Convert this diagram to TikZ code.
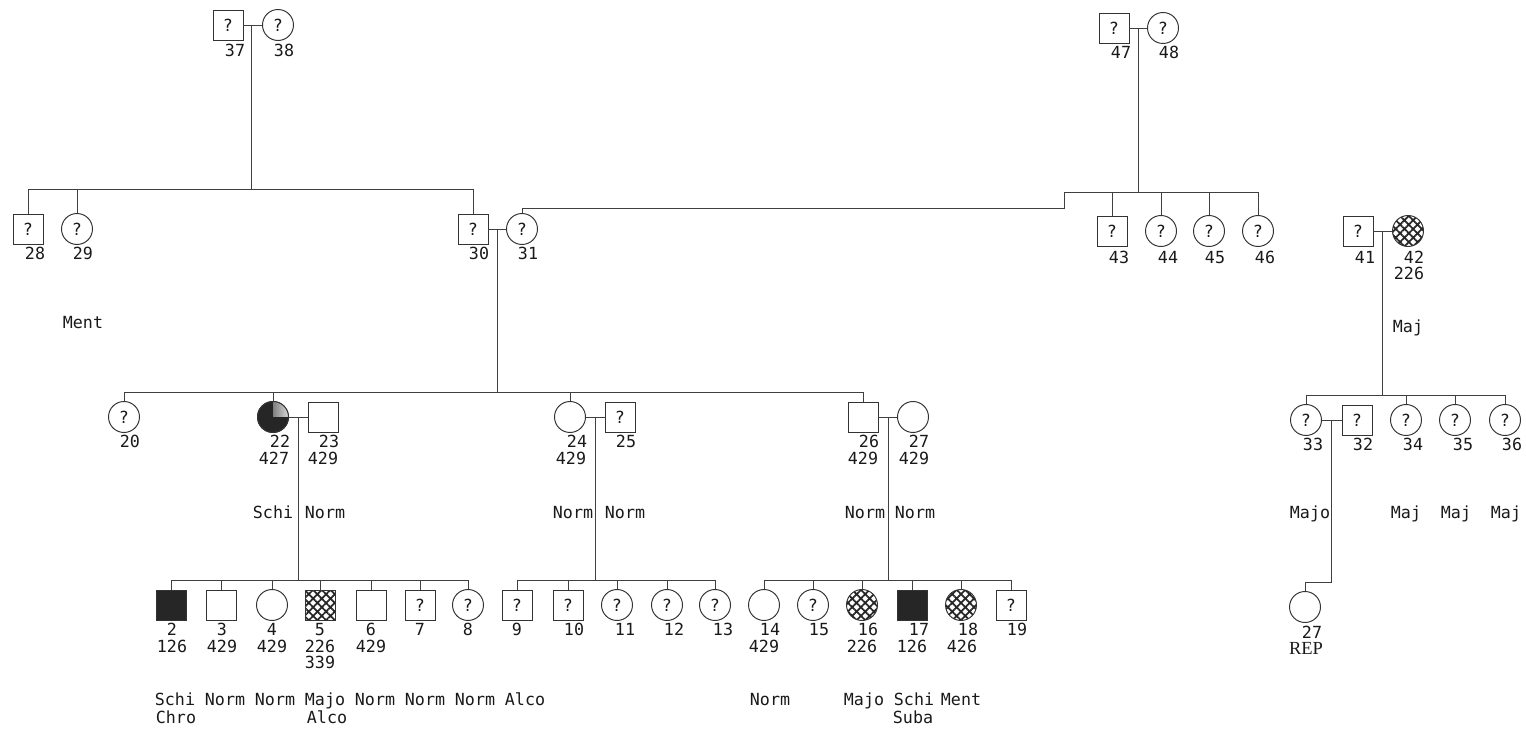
\documentclass[tikz,border=0pt]{standalone}
\usepackage{fontspec}
\newfontfamily\lblfont{DejaVu Sans Mono}
\newfontfamily\repfont{Liberation Serif}
\usetikzlibrary{patterns.meta}
\newcommand\lblf{\lblfont\fontsize{9.5}{10}\selectfont}
\begin{document}
\begin{tikzpicture}[x=0.02cm,y=-0.02cm,
  ln/.style={draw=black!75, line width=0.5pt},
  person/.style={draw=black!80, line width=0.55pt, inner sep=0pt, font=\lblf, text=black!90},
  sq/.style={person, rectangle, minimum size=0.6cm},
  ci/.style={person, circle, minimum size=0.62cm},
  aff/.style={fill=black!85},
  hat/.style={pattern={Hatch[angle=45,distance=3.5pt,line width=1pt]}, pattern color=black!85},
  lab/.style={font=\lblf, text=black!90, anchor=base, yshift=-0.114cm, inner sep=0pt},
]
\useasboundingbox (0,0) rectangle (1526,729);

% ---------- Generation I
\node[sq] (n37) at (228,25) {?};
\node[ci] (n38) at (278,25) {?};
\node[sq] (n47) at (1114,28) {?};
\node[ci] (n48) at (1163,28) {?};

% ---------- Generation II
\node[sq] (n28) at (28,229) {?};
\node[ci] (n29) at (77,229) {?};
\node[sq] (n30) at (473,229) {?};
\node[ci] (n31) at (522,229) {?};
\node[sq] (n43) at (1112,231) {?};
\node[ci] (n44) at (1161,231) {?};
\node[ci] (n45) at (1209,231) {?};
\node[ci] (n46) at (1258,231) {?};
\node[sq] (n41) at (1358,231) {?};
\node[ci,hat] (n42) at (1408,231) {};

% ---------- Generation III
\node[ci] (n20) at (124,417) {?};
\node[ci,aff] (n22) at (273,417) {};
\begin{scope}
  \clip (n22.center) rectangle ++(0.4cm,0.4cm);
  \shade[left color=black!85, right color=black!15] (n22.center) circle (0.31cm);
\end{scope}
\draw[draw=black!80, line width=0.55pt] (n22.center) circle (0.31cm);
\node[sq] (n23) at (323,417) {};
\node[ci] (n24) at (570,417) {};
\node[sq] (n25) at (620,417) {?};
\node[sq] (n26) at (863,417) {};
\node[ci] (n27) at (913,417) {};
\node[ci] (n33) at (1306,420) {?};
\node[sq] (n32) at (1357,420) {?};
\node[ci] (n34) at (1406,420) {?};
\node[ci] (n35) at (1455,420) {?};
\node[ci] (n36) at (1505,420) {?};

% ---------- Generation IV
\node[sq,aff] (n2) at (171,605) {};
\node[sq] (n3) at (221,605) {};
\node[ci] (n4) at (272,605) {};
\node[sq,hat] (n5) at (320,605) {};
\node[sq] (n6) at (371,605) {};
\node[sq] (n7) at (420,605) {?};
\node[ci] (n8) at (468,605) {?};
\node[sq] (n9) at (517,605) {?};
\node[sq] (n10) at (568,605) {?};
\node[ci] (n11) at (617,605) {?};
\node[ci] (n12) at (667,605) {?};
\node[ci] (n13) at (715,605) {?};
\node[ci] (n14) at (764,605) {};
\node[ci] (n15) at (813,605) {?};
\node[ci,hat] (n16) at (862,605) {};
\node[sq,aff] (n17) at (912,605) {};
\node[ci,hat] (n18) at (961,605) {};
\node[sq] (n19) at (1011,605) {?};
\node[ci] (n27b) at (1305,607) {};

% ---------- junction coordinates
\coordinate (m37) at (251,25);
\coordinate (m47) at (1138,28);
\coordinate (m30) at (497,229);
\coordinate (m41) at (1382,231);
\coordinate (m22) at (298,417);
\coordinate (m24) at (595,417);
\coordinate (m26) at (888,417);
\coordinate (m33) at (1331,420);
\coordinate (k33) at (1331,582);
\coordinate (j31) at (1064,208);
\coordinate (sA) at (0,189);
\coordinate (sB) at (0,192);
\coordinate (sC) at (0,392);
\coordinate (sD) at (0,395);
\coordinate (sE) at (0,580);

% ---------- connectors
\draw[ln] (n37) -- (n38);
\draw[ln] (m37) -- (m37 |- sA);
\draw[ln] (n28.north |- sA) -- (n30.north |- sA);
\foreach \p in {n28,n29,n30} \draw[ln] (\p.north |- sA) -- (\p.north);

\draw[ln] (n47) -- (n48);
\draw[ln] (m47) -- (m47 |- sB);
\draw[ln] (n31.north) |- (j31) |- (n46.north |- sB);
\foreach \p in {n43,n44,n45,n46} \draw[ln] (\p.north |- sB) -- (\p.north);

\draw[ln] (n30) -- (n31);
\draw[ln] (m30) -- (m30 |- sC);
\draw[ln] (n20.north |- sC) -- (n26.north |- sC);
\foreach \p in {n20,n22,n24,n26} \draw[ln] (\p.north |- sC) -- (\p.north);

\draw[ln] (n41) -- (n42);
\draw[ln] (m41) -- (m41 |- sD);
\draw[ln] (n33.north |- sD) -- (n36.north |- sD);
\foreach \p in {n33,n34,n35,n36} \draw[ln] (\p.north |- sD) -- (\p.north);

\draw[ln] (n22) -- (n23);
\draw[ln] (m22) -- (m22 |- sE);
\draw[ln] (n2.north |- sE) -- (n8.north |- sE);
\foreach \p in {n2,n3,n4,n5,n6,n7,n8} \draw[ln] (\p.north |- sE) -- (\p.north);

\draw[ln] (n24) -- (n25);
\draw[ln] (m24) -- (m24 |- sE);
\draw[ln] (n9.north |- sE) -- (n13.north |- sE);
\foreach \p in {n9,n10,n11,n12,n13} \draw[ln] (\p.north |- sE) -- (\p.north);

\draw[ln] (n26) -- (n27);
\draw[ln] (m26) -- (m26 |- sE);
\draw[ln] (n14.north |- sE) -- (n19.north |- sE);
\foreach \p in {n14,n15,n16,n17,n18,n19} \draw[ln] (\p.north |- sE) -- (\p.north);

\draw[ln] (n33) -- (n32);
\draw[ln] (m33) -- (k33) -| (n27b.north);

% ---------- labels
\foreach \x/\y/\t [count=\i] in {
  235/51/37, 284/51/38, 1121/53/47, 1169/53/48,
  35/254/28, 83/254/29, 479/254/30, 528/254/31,
  1119/258/43, 1168/258/44, 1215/258/45, 1265/258/46,
  1365/258/41, 1414/258/42, 1409/274/226,
  83/323/Ment, 1408/327/Maj,
  130/442/20, 280/442/22, 274/459/427, 329/442/23, 323/459/429,
  577/442/24, 571/459/429, 626/442/25,
  869/442/26, 863/459/429, 919/442/27, 914/459/429,
  1313/445/33, 1363/445/32, 1413/445/34, 1463/445/35, 1512/445/36,
  273/513/Schi, 325/513/Norm, 573/513/Norm, 625/513/Norm, 865/513/Norm, 915/513/Norm,
  1310/513/Majo, 1406/513/Maj, 1456/513/Maj, 1506/513/Maj,
  1312/633/27,
  172/630/2, 222/630/3, 272/630/4, 320/630/5, 371/630/6, 420/630/7, 468/630/8,
  517/630/9, 574/630/10, 625/630/11, 674/630/12, 723/630/13,
  770/630/14, 819/630/15, 868/630/16, 919/630/17, 968/630/18, 1017/630/19,
  172/647/126, 222/647/429, 272/647/429, 320/647/226, 371/647/429,
  764/647/429, 862/647/226, 912/647/126, 962/647/426,
  320/663/339,
  175/700/Schi, 225/700/Norm, 275/700/Norm, 325/700/Majo, 375/700/Norm,
  425/700/Norm, 475/700/Norm, 525/700/Alco,
  770/700/Norm, 864/700/Majo, 914/700/Schi, 961/700/Ment,
  176/718/Chro, 327/718/Alco, 913/718/Suba}
  \node[lab] (L\i) at (\x,\y) {\t};
\node[lab, font=\repfont\fontsize{10.5}{12}\selectfont] (tREP) at (1306,649) {REP};
\end{tikzpicture}
\end{document}
